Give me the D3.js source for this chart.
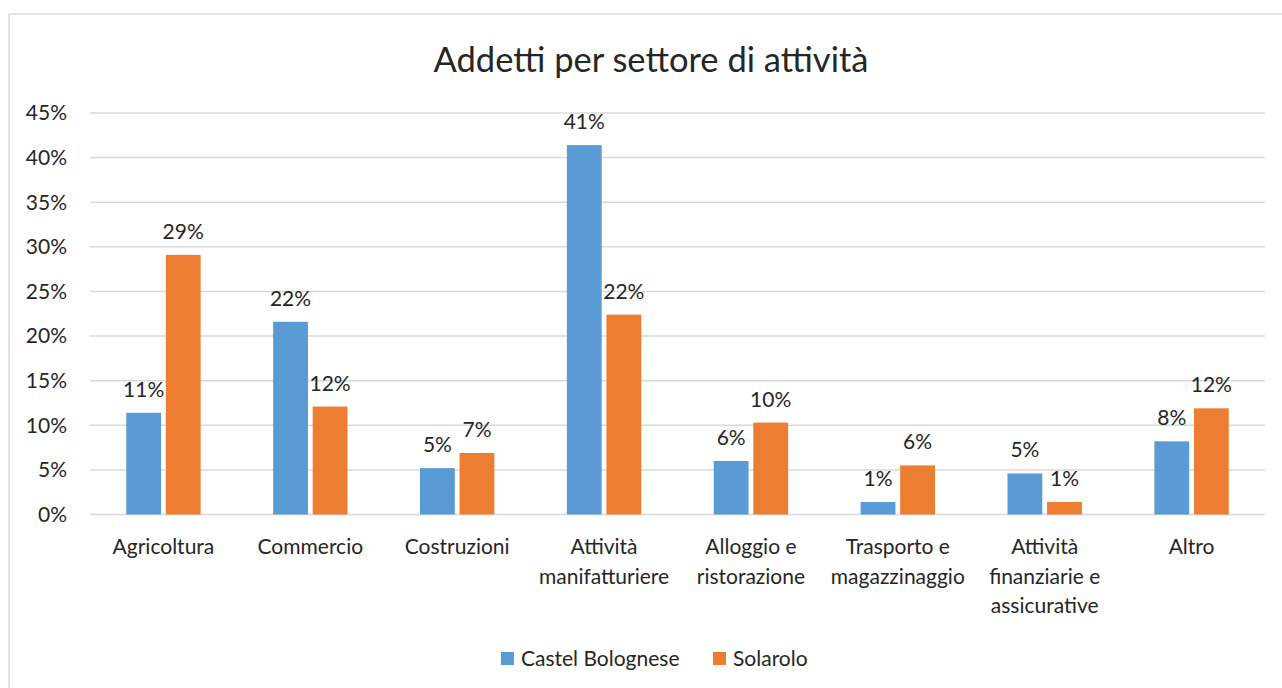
<!DOCTYPE html>
<html>
<head>
<meta charset="utf-8">
<script src="https://cdn.jsdelivr.net/npm/d3@7"></script>
<style>
  body { margin: 0; background: #fff; }
  svg { display: block; font-family: Lato, "Open Sans", sans-serif; }
</style>
</head>
<body>
<div id="chart"></div>
<script>
// categories (multi-line labels split with "\n")
const categories = [
    "Agricoltura",
    "Commercio",
    "Costruzioni",
    "Attività\nmanifatturiere",
    "Alloggio e\nristorazione",
    "Trasporto e\nmagazzinaggio",
    "Attività\nfinanziarie e\nassicurative",
    "Altro"
];

// series values (percent)
const castelBolognese = [11.4, 21.6, 5.2, 41.4, 6.0, 1.4, 4.6, 8.2];
const solarolo = [29.1, 12.1, 6.9, 22.4, 10.3, 5.5, 1.4, 11.9];

const seriesNames = ["Castel Bolognese", "Solarolo"];
const seriesColors = ["#5B9BD5", "#ED7D31"];

// y-axis ticks
const yTicks = [0, 5, 10, 15, 20, 25, 30, 35, 40, 45];

const width = 1282;
const height = 688;
const margin = {top: 113, right: 17, bottom: 173, left: 90};
const fontSize = 21;

const data = categories.map((c, i) => ({
    category: c,
    values: [castelBolognese[i], solarolo[i]]
}));

const svg = d3.select("#chart").append("svg")
    .attr("width", width)
    .attr("height", height)
    .attr("viewBox", [0, 0, width, height]);

// outer chart border (only left and top edges are in view)
svg.append("path")
    .attr("d", d3.line()([[9, height], [9, 14], [width, 14]]))
    .attr("fill", "none")
    .attr("stroke", "#D9D9D9")
    .attr("stroke-width", 1.5);

// scales
const xScale = d3.scaleBand()
    .domain(categories)
    .range([margin.left, width - margin.right]);

const yScale = d3.scaleLinear()
    .domain([0, 45])
    .range([height - margin.bottom - 0.5, margin.top]);

const innerWidth = 74.4;
const x1 = d3.scaleBand()
    .domain(seriesNames)
    .range([(xScale.bandwidth() - innerWidth) / 2, (xScale.bandwidth() + innerWidth) / 2])
    .paddingInner(0.12);

// gridlines
svg.append("g")
    .selectAll("line")
    .data(yTicks)
    .join("line")
    .attr("x1", margin.left)
    .attr("x2", width - margin.right)
    .attr("y1", d => yScale(d))
    .attr("y2", d => yScale(d))
    .attr("stroke", "#D9D9D9")
    .attr("stroke-width", 1.5);

// y labels
svg.append("g")
    .selectAll("text")
    .data(yTicks)
    .join("text")
    .attr("x", margin.left - 23)
    .attr("y", d => yScale(d))
    .attr("dy", "0.35em")
    .attr("text-anchor", "end")
    .attr("font-size", fontSize)
    .attr("fill", "#262626")
    .text(d => d + "%");

// bars
const groups = svg.append("g")
    .selectAll("g")
    .data(data)
    .join("g")
    .attr("transform", d => `translate(${xScale(d.category)},0)`);

groups.selectAll("rect")
    .data(d => d.values.map((v, i) => ({name: seriesNames[i], value: v, i})))
    .join("rect")
    .attr("x", d => x1(d.name))
    .attr("width", x1.bandwidth())
    .attr("y", d => yScale(d.value))
    .attr("height", d => yScale(0) - yScale(d.value))
    .attr("fill", d => seriesColors[d.i]);

// data labels
groups.selectAll("text.value")
    .data(d => d.values.map((v, i) => ({name: seriesNames[i], value: v, i})))
    .join("text")
    .attr("class", "value")
    .attr("x", d => x1(d.name) + x1.bandwidth() / 2)
    .attr("y", d => yScale(d.value) - 16)
    .attr("text-anchor", "middle")
    .attr("font-size", fontSize)
    .attr("fill", "#262626")
    .text(d => Math.round(d.value) + "%");

// category labels
const catLabels = svg.append("g")
    .selectAll("text")
    .data(categories)
    .join("text")
    .attr("x", d => xScale(d) + xScale.bandwidth() / 2)
    .attr("y", 554)
    .attr("text-anchor", "middle")
    .attr("font-size", fontSize)
    .attr("fill", "#262626");

catLabels.selectAll("tspan")
    .data(d => d.split("\n"))
    .join("tspan")
    .attr("x", function() { return this.parentNode.getAttribute("x"); })
    .attr("dy", (d, i) => i === 0 ? 0 : 29.5)
    .text(d => d);

// title
svg.append("text")
    .attr("x", 651)
    .attr("y", 72)
    .attr("text-anchor", "middle")
    .attr("font-size", 34.5)
    .attr("fill", "#262626")
    .text("Addetti per settore di attività");

// legend
const legendItems = [
    {name: seriesNames[0], color: seriesColors[0], x: 501},
    {name: seriesNames[1], color: seriesColors[1], x: 713}
];

const legend = svg.append("g")
    .selectAll("g")
    .data(legendItems)
    .join("g")
    .attr("transform", d => `translate(${d.x},652)`);

legend.append("rect")
    .attr("width", 13)
    .attr("height", 13)
    .attr("fill", d => d.color);

legend.append("text")
    .attr("x", 20)
    .attr("y", 14)
    .attr("font-size", fontSize)
    .attr("fill", "#262626")
    .text(d => d.name);
</script>
</body>
</html>
